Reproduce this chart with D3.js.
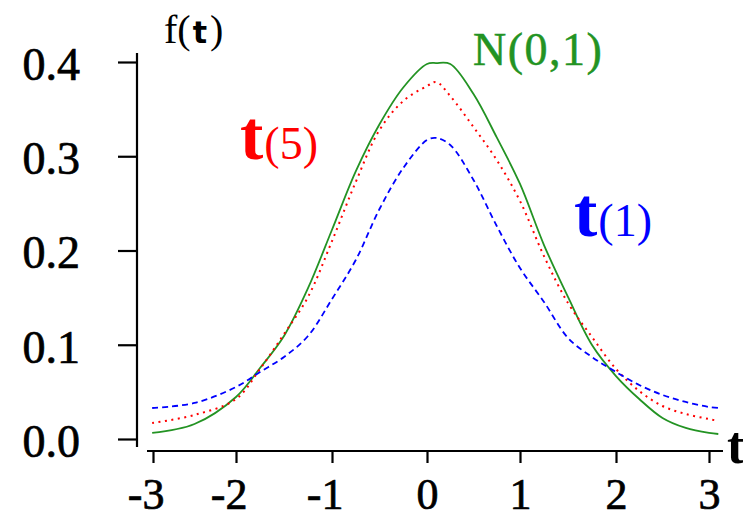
<!DOCTYPE html>
<html>
  <head>
    <meta charset="utf-8">
    <title>t distribution vs N(0,1)</title>
    <script src="https://cdn.jsdelivr.net/npm/d3@7"></script>
    <style>
      body { margin: 0; background: #fff; }
      svg { display: block; }
      text { font-family: "Liberation Serif", "DejaVu Serif", serif; }
    </style>
  </head>
  <body>
    <div id="chart"></div>
    <script type="text/javascript">
    // values
    var tVals  = [-3.01, -2.5, -2, -1.75, -1.5, -1.25, -1, -0.75, -0.5, -0.25, 0, 0.1, 0.25, 0.5, 0.75, 1, 1.25, 1.5, 1.75, 2, 2.25, 2.5, 2.75, 3, 3.1];
    var normal = [0.0064, 0.0159, 0.0446, 0.0753, 0.1093, 0.1600, 0.2220, 0.2840, 0.3340, 0.3730, 0.3979, 0.3989, 0.3979, 0.3660, 0.3200, 0.2706, 0.2058, 0.1507, 0.0997, 0.0668, 0.0424, 0.0223, 0.0117, 0.0064, 0.0053];
    var t5     = [0.0170, 0.0255, 0.0424, 0.0743, 0.1114, 0.1507, 0.2100, 0.2727, 0.3279, 0.3586, 0.3745, 0.3788, 0.3639, 0.3310, 0.2960, 0.2525, 0.1940, 0.1443, 0.1082, 0.0743, 0.0509, 0.0350, 0.0265, 0.0212, 0.0191];
    var t1     = [0.0329, 0.0382, 0.0552, 0.0711, 0.0870, 0.1093, 0.1485, 0.1899, 0.2440, 0.2875, 0.3172, 0.3194, 0.3119, 0.2748, 0.2260, 0.1814, 0.1454, 0.1072, 0.0870, 0.0711, 0.0573, 0.0467, 0.0393, 0.0340, 0.0329];
    var xTicks = [-3, -2, -1, 0, 1, 2, 3];
    var yTicks = [0, 0.1, 0.2, 0.3, 0.4];

    (function(){
        var W = 743, H = 521;
        var GREEN = '#239323', RED = '#ff0000', BLUE = '#0000ff';

        var svg = d3.select('#chart').append('svg')
            .attr('width', W).attr('height', H);

        // the original's tick spacing is a bit uneven, keep it
        var x = d3.scaleLinear().domain(xTicks).range([153, 236, 332, 427, 520, 616, 709]);
        var y = d3.scaleLinear().domain([0, 0.4]).range([439, 62]);

        var series = [
            {vals: normal, color: GREEN, dash: null, width: 1.8},
            {vals: t5, color: RED, dash: '2,4.5', width: 2},
            {vals: t1, color: BLUE, dash: '6,4', width: 1.8}
        ];

        var line = d3.line()
            .x(function(d){ return x(d[0]); })
            .y(function(d){ return y(d[1]); })
            .curve(d3.curveCatmullRom.alpha(0.5));

        series.forEach(function(s){
            var pts = tVals.map(function(t, i){ return [t, s.vals[i]]; });
            svg.append('path')
                .attr('d', line(pts))
                .attr('fill', 'none')
                .attr('stroke', s.color)
                .attr('stroke-width', s.width)
                .attr('stroke-dasharray', s.dash);
        });

        // y axis
        var yAxis = d3.axisLeft(y).tickValues(yTicks)
            .tickFormat(d3.format('.1f'))
            .tickSizeInner(19).tickSizeOuter(0).tickPadding(38);
        var gy = svg.append('g').attr('transform', 'translate(137,0)').call(yAxis);
        gy.select('.domain').attr('d', 'M0,' + (y(0.4) - 9) + 'V' + (y(0) + 8));
        gy.selectAll('path, line').attr('stroke', '#000').attr('stroke-width', 2.2);
        gy.selectAll('text')
            .attr('font-family', '"Liberation Serif", serif')
            .attr('font-size', 46).attr('fill', '#000')
            .attr('stroke', '#000').attr('stroke-width', 0.7)
            .attr('dy', '0.38em');

        // x axis
        var xAxis = d3.axisBottom(x).tickValues(xTicks)
            .tickFormat(function(d){ return String(d); })
            .tickSizeInner(12).tickSizeOuter(0);
        var gx = svg.append('g').attr('transform', 'translate(0,451)').call(xAxis);
        gx.select('.domain').attr('d', 'M' + (x(-3) - 6) + ',0H' + (x(3) + 14));
        gx.selectAll('path, line').attr('stroke', '#000').attr('stroke-width', 2.2);
        // digit centred on the tick, minus sign hangs to the left
        gx.selectAll('text')
            .attr('font-family', '"Liberation Serif", serif')
            .attr('font-size', 44).attr('fill', '#000')
            .attr('stroke', '#000').attr('stroke-width', 0.7)
            .attr('text-anchor', 'end')
            .attr('x', 11).attr('y', 58).attr('dy', 0);

        // axis titles
        var ft = svg.append('text').attr('x', 164).attr('y', 43)
            .attr('font-size', 40).attr('fill', '#000');
        ft.append('tspan').text('f(');
        ft.append('tspan').attr('font-weight', 'bold').attr('font-family', '"DejaVu Sans", sans-serif')
            .attr('font-size', 30).attr('dx', 2).text('t');
        ft.append('tspan').attr('dx', 3).text(')');

        svg.append('text').attr('x', 727).attr('y', 463)
            .attr('font-size', 52).attr('font-weight', 'bold').attr('fill', '#000').text('t');

        // curve labels
        svg.append('text').attr('x', 473).attr('y', 65)
            .attr('font-size', 46).attr('fill', GREEN).attr('letter-spacing', 1.5)
            .attr('stroke', GREEN).attr('stroke-width', 0.5).text('N(0,1)');

        var l5 = svg.append('text').attr('x', 240).attr('y', 159).attr('fill', RED);
        l5.append('tspan').attr('font-size', 70).attr('font-weight', 'bold').text('t');
        l5.append('tspan').attr('font-size', 46).attr('dx', 1).text('(5)');

        var l1 = svg.append('text').attr('x', 574).attr('y', 236).attr('fill', BLUE);
        l1.append('tspan').attr('font-size', 70).attr('font-weight', 'bold').text('t');
        l1.append('tspan').attr('font-size', 46).attr('dx', 1).text('(1)');
    })();
    </script>
  </body>
</html>
